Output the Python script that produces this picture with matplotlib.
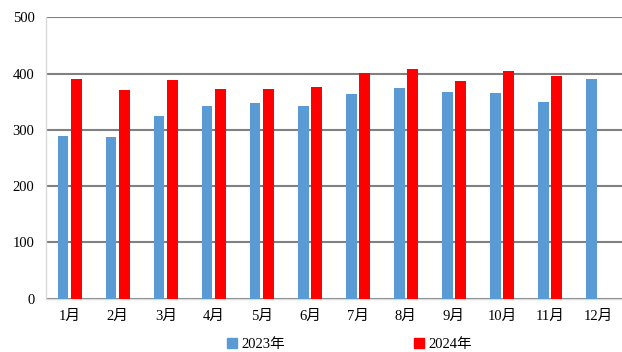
import matplotlib
matplotlib.use("Agg")
import matplotlib.pyplot as plt
import numpy as np
from matplotlib.patches import Patch

plt.rcParams['font.family'] = ['Liberation Serif', 'Noto Sans CJK SC']

months = ["1月", "2月", "3月", "4月", "5月", "6月", "7月", "8月", "9月", "10月", "11月", "12月"]
values_2023 = [290, 287, 325, 343, 348, 343, 364, 374, 367, 365, 350, 391]
values_2024 = [391, 370, 388, 372, 372, 376, 401, 409, 387, 405, 396, np.nan]
series_names = ["2023年", "2024年"]
yticks = [0, 100, 200, 300, 400, 500]

fig = plt.figure(figsize=(6.22, 3.52), dpi=100)
ax = fig.add_axes([0.0735, 0.1514, 0.9265, 0.7994])

x = np.arange(len(months))
w = 0.222
off = 0.139
ax.bar(x - off, values_2023, width=w, color="#5B9BD5", zorder=3)
ax.bar(x + off, values_2024, width=w, color="#FF0000", zorder=3)

ax.set_xlim(-0.5, len(months) - 0.5)
ax.set_ylim(0, 500)
ax.set_yticks(yticks)
ax.set_xticks(x)
ax.set_xticklabels(months)
ax.yaxis.grid(True, color="#808080", linewidth=1.5, zorder=0)
ax.tick_params(axis="both", length=0, labelsize=10.5, colors="#000000")
ax.tick_params(axis="x", pad=8)
ax.tick_params(axis="y", pad=8)
for s in ["top", "right"]:
    ax.spines[s].set_visible(False)
ax.spines["left"].set_color("#d9d9d9")
ax.spines["bottom"].set_color("#d9d9d9")
ax.spines["left"].set_linewidth(1.0)
ax.spines["bottom"].set_linewidth(1.0)

handles = [Patch(color="#5B9BD5"), Patch(color="#FF0000")]
fig.legend(handles, series_names, loc="center", bbox_to_anchor=(0.562, 0.022),
           ncol=2, frameon=False, fontsize=10.5, handlelength=0.7, handleheight=0.7,
           handletextpad=0.3, columnspacing=8.8)

fig.savefig("out.png", dpi=100)
